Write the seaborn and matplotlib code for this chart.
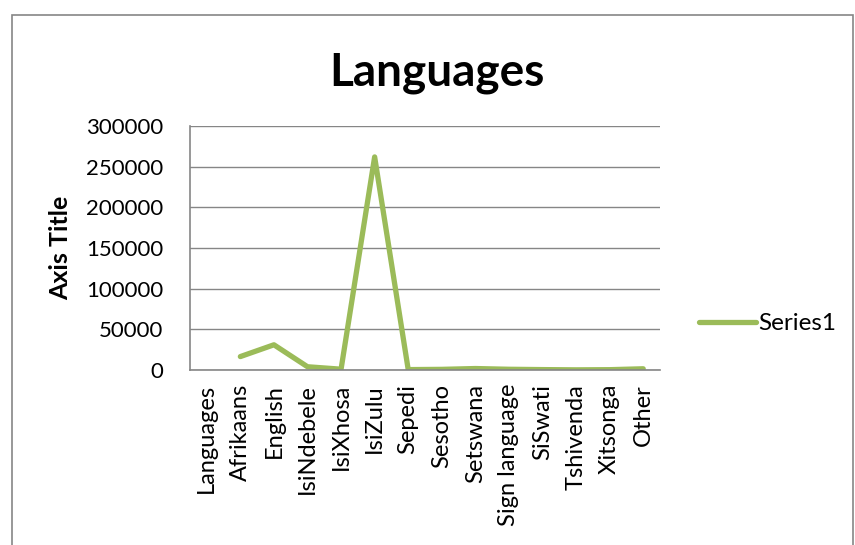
import numpy as np
import pandas as pd
import matplotlib.pyplot as plt
import seaborn as sns
from matplotlib.patches import Rectangle

# category labels and values
categories = ["Languages", "Afrikaans", "English", "IsiNdebele", "IsiXhosa", "IsiZulu",
              "Sepedi", "Sesotho", "Setswana", "Sign language", "SiSwati", "Tshivenda",
              "Xitsonga", "Other"]
values = [np.nan, 16500, 31000, 4000, 1000, 262000, 500, 800, 1800, 900, 500, 200, 400, 1500]
yticks = [0, 50000, 100000, 150000, 200000, 250000, 300000]

sns.set_theme(style="white", rc={"text.color": "black", "xtick.color": "black",
                                 "ytick.color": "black", "axes.labelcolor": "black"})
plt.rcParams['font.family'] = ['Lato', 'DejaVu Sans']

df = pd.DataFrame({"pos": np.arange(len(categories)), "value": values})

fig = plt.figure(figsize=(8.55, 5.45), dpi=100)
ax = fig.add_axes([190 / 855, 1 - 370 / 545, 470 / 855, 244 / 545])

sns.lineplot(data=df, x="pos", y="value", ax=ax, color="#9BBB59", linewidth=3.8,
             sort=False, label="Series1", solid_capstyle="round", solid_joinstyle="round")

ax.set_xlim(-0.5, len(categories) - 0.5)
ax.set_ylim(0, 300000)
ax.set_yticks(yticks)
ax.set_yticklabels([str(v) for v in yticks], fontsize=16)
ax.set_xticks(df["pos"])
ax.set_xticklabels(categories, rotation=90, fontsize=17)
ax.tick_params(axis="y", length=0, pad=19)
ax.tick_params(axis="x", length=0, pad=10)
ax.yaxis.grid(True, color="#868686", linewidth=1)
ax.set_axisbelow(True)
for side in ["top", "right"]:
    ax.spines[side].set_visible(False)
for side in ["left", "bottom"]:
    ax.spines[side].set_color("#868686")
    ax.spines[side].set_linewidth(1.2)

ax.set_xlabel("")
ax.set_ylabel("Axis Title", fontsize=18, fontweight="bold")
ax.yaxis.set_label_coords(-0.25, 0.5)
fig.text(437 / 855, 1 - 73 / 545, "Languages", ha="center", va="center",
         fontsize=33, fontweight="bold")

ax.legend(loc="center left", bbox_to_anchor=(1.062, 0.19), frameon=False, fontsize=17.5,
          handlelength=2.35, handletextpad=0.1, borderaxespad=0)

fig.patches.append(Rectangle((12 / 855, -0.01), 841 / 855, 1 - 15 / 545 + 0.01,
                             transform=fig.transFigure, fill=False,
                             edgecolor="#868686", linewidth=1.2))

plt.savefig("out.png", dpi=100)
